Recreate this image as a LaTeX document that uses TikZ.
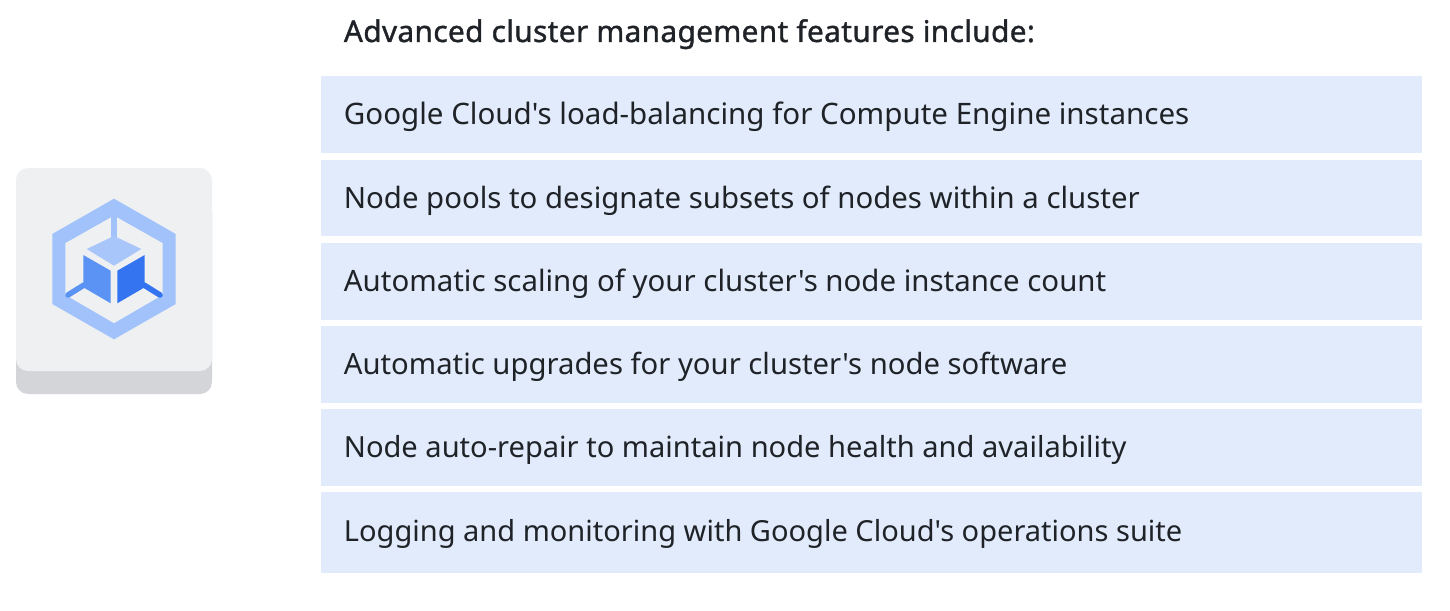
\documentclass[tikz,border=0pt]{standalone}
\usepackage{fontspec}
\setmainfont{Noto Sans}[Ligatures=TeXOff]
\newfontfamily\titlefont{Noto Sans}[FakeBold=1.2,LetterSpace=1.2,Ligatures=TeXOff]
\definecolor{rowfill}{HTML}{E1EBFB}
\definecolor{ink}{HTML}{1F2328}
\definecolor{cardtop}{HTML}{EEF0F2}
\definecolor{cardside}{HTML}{D4D5D8}
\definecolor{hexblue}{HTML}{A1C2FA}
\definecolor{topblue}{HTML}{A8C6FA}
\definecolor{leftblue}{HTML}{5B93F5}
\definecolor{rightblue}{HTML}{3574F0}
\tikzset{
  rowbox/.style={fill=rowfill,draw=none,rectangle,inner sep=0pt,anchor=north west,minimum width=1100.5*0.5pt,minimum height=76.6*0.5pt},
  rowtext/.style={anchor=base west,inner sep=0pt,text=ink,font=\fontsize{#1}{17}\selectfont},
  titletext/.style={anchor=base west,inner sep=0pt,text=ink,font=\titlefont\fontsize{14.9}{17}\selectfont}
}
\begin{document}
\begin{tikzpicture}[x=0.5pt,y=-0.5pt]
\useasboundingbox (0,0) rectangle (1450,610);
\fill[white] (0,0) rectangle (1450,610);
% card
\fill[cardside,rounded corners=6pt] (16,200) rectangle (212,394);
\fill[cardtop,rounded corners=6pt] (16,168) rectangle (212,371);
% hexagon ring
\fill[hexblue,even odd rule] (114,198.7) -- (175.7,234) -- (175.7,304) -- (114,339.3) -- (52.3,304) -- (52.3,234) -- cycle
  (114,215.5) -- (162.7,243) -- (162.7,295) -- (114,323.3) -- (65.3,295) -- (65.3,243) -- cycle;
\fill[hexblue] (111,214) rectangle (117,240);
% legs
\draw[leftblue,line width=2.8pt,line cap=round] (84,285) -- (68,295);
\draw[rightblue,line width=2.8pt,line cap=round] (144,285) -- (160,295);
% cube
\fill[topblue] (114,236) -- (141.3,249) -- (114,265.7) -- (86.7,249) -- cycle;
\fill[leftblue] (83.3,255) -- (110.7,270.7) -- (110.7,303.3) -- (83.3,287.3) -- cycle;
\fill[rightblue] (117.3,270.7) -- (144.7,255) -- (144.7,287.3) -- (117.3,303.3) -- cycle;
% rows
\node[rowbox] (r1) at (320.7,76) {};
\node[rowbox] (r2) at (320.7,159.3) {};
\node[rowbox] (r3) at (320.7,242.5) {};
\node[rowbox] (r4) at (320.7,325.8) {};
\node[rowbox] (r5) at (320.7,409) {};
\node[rowbox,minimum height=80.5*0.5pt] (r6) at (320.7,492) {};
\node[titletext] (title) at (343.5,42) {Advanced cluster management features include:};
\node[rowtext=14.77] (t1) at (343.5,125) {Google Cloud's load-balancing for Compute Engine instances};
\node[rowtext=14.68] (t2) at (343.5,208) {Node pools to designate subsets of nodes within a cluster};
\node[rowtext=14.71] (t3) at (343.5,291) {Automatic scaling of your cluster's node instance count};
\node[rowtext=14.63] (t4) at (343.5,374.5) {Automatic upgrades for your cluster's node software};
\node[rowtext=14.54] (t5) at (343.5,457.5) {Node auto-repair to maintain node health and availability};
\node[rowtext=14.51] (t6) at (343.5,541) {Logging and monitoring with Google Cloud's operations suite};
\end{tikzpicture}
\end{document}
